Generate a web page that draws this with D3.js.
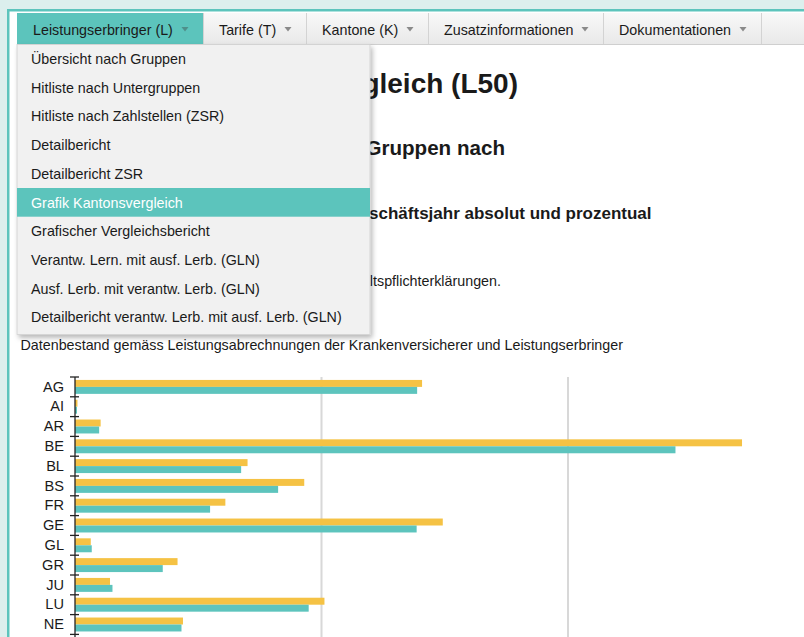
<!DOCTYPE html>
<html>
<head>
<meta charset="utf-8">
<script src="https://cdn.jsdelivr.net/npm/d3@7"></script>
<style>
  html, body { margin: 0; padding: 0; background: #dcefed; overflow: hidden; }
  svg { display: block; }
  text { font-family: "Liberation Sans", Arial, sans-serif; }
</style>
</head>
<body>
<script>
// ---------- data ----------
const kantone = ["AG","AI","AR","BE","BL","BS","FR","GE","GL","GR","JU","LU","NE"];
const werteGelb    = [704, 5, 52, 1353, 350, 465, 305, 746, 32, 208, 71, 506, 219];
const werteTuerkis = [694, 4, 49, 1218, 337, 412, 274, 693, 34, 178, 76, 474, 216];
const gitterWerte = [500, 1000, 1500];

const menuPunkte = ["Leistungserbringer (L)", "Tarife (T)", "Kantone (K)", "Zusatzinformationen", "Dokumentationen"];
const untermenu = [
  "Übersicht nach Gruppen",
  "Hitliste nach Untergruppen",
  "Hitliste nach Zahlstellen (ZSR)",
  "Detailbericht",
  "Detailbericht ZSR",
  "Grafik Kantonsvergleich",
  "Grafischer Vergleichsbericht",
  "Verantw. Lern. mit ausf. Lerb. (GLN)",
  "Ausf. Lerb. mit verantw. Lerb. (GLN)",
  "Detailbericht verantw. Lerb. mit ausf. Lerb. (GLN)"
];
const aktivIndex = 5;
const titel = "Kantonsvergleich (L50)";
const untertitel = "Vergleich der Gruppen nach";
const untertitel2 = "Kosten im Geschäftsjahr absolut und prozentual";
const hinweis = "Ohne Vorbehaltspflichterklärungen.";
const quelle = "Datenbestand gemäss Leistungsabrechnungen der Krankenversicherer und Leistungserbringer";

// ---------- layout ----------
const W = 804, H = 637;
const teal = "#5cc4bc", gelb = "#f5c244", tuerkis = "#5dc4bd";
const fs = 14.3;

const svg = d3.select("body").append("svg").attr("width", W).attr("height", H);
const defs = svg.append("defs");
const grad = defs.append("linearGradient").attr("id", "navg").attr("x1", 0).attr("y1", 0).attr("x2", 0).attr("y2", 1);
grad.append("stop").attr("offset", "0%").attr("stop-color", "#f8f8f8");
grad.append("stop").attr("offset", "100%").attr("stop-color", "#e9e9e9");
const sh = defs.append("filter").attr("id", "shadow").attr("x", "-10%").attr("y", "-10%").attr("width", "130%").attr("height", "130%");
sh.append("feDropShadow").attr("dx", 2).attr("dy", 3).attr("stdDeviation", 2.5).attr("flood-color", "#000").attr("flood-opacity", 0.28);

// background + page frame
svg.append("rect").attr("width", W).attr("height", H).attr("fill", "#dcefed");
svg.append("rect").attr("x", 7).attr("y", 9).attr("width", W).attr("height", H).attr("fill", teal);
svg.append("rect").attr("x", 9.5).attr("y", 11.5).attr("width", W).attr("height", H).attr("fill", "#ffffff");

// ---------- page texts behind dropdown ----------
svg.append("text").attr("x", 518).attr("y", 93).attr("text-anchor", "end")
  .attr("font-size", 28).attr("font-weight", "bold").attr("fill", "#1a1a1a").text(titel);
svg.append("text").attr("x", 505).attr("y", 155).attr("text-anchor", "end")
  .attr("font-size", 20.6).attr("font-weight", "bold").attr("fill", "#1a1a1a").text(untertitel);
svg.append("text").attr("x", 651.5).attr("y", 218.5).attr("text-anchor", "end")
  .attr("font-size", 17).attr("font-weight", "bold").attr("fill", "#1a1a1a").text(untertitel2);
svg.append("text").attr("x", 501).attr("y", 285.5).attr("text-anchor", "end")
  .attr("font-size", fs).attr("fill", "#1a1a1a").text(hinweis);
svg.append("text").attr("x", 20.5).attr("y", 350)
  .attr("font-size", fs).attr("fill", "#1a1a1a").text(quelle);

// ---------- chart ----------
const x = d3.scaleLinear().domain([0, 1000]).range([75, 568]);
const y = d3.scaleBand().domain(kantone).range([377, 377 + 19.8 * kantone.length]).padding(0);
const serien = ["gelb", "tuerkis"];
const ys = d3.scaleBand().domain(serien).range([0, y.bandwidth()]).paddingInner(0).paddingOuter(0.42);

const chart = svg.append("g");
chart.selectAll("line.grid").data(gitterWerte).join("line")
  .attr("class", "grid")
  .attr("x1", d => x(d)).attr("x2", d => x(d))
  .attr("y1", 377).attr("y2", H + 5)
  .attr("stroke", "#d8d8d8").attr("stroke-width", 2);

const rows = kantone.map((k, i) => ({ k, gelb: werteGelb[i], tuerkis: werteTuerkis[i] }));
const grp = chart.selectAll("g.row").data(rows).join("g")
  .attr("class", "row").attr("transform", d => `translate(0,${y(d.k)})`);
grp.append("rect")
  .attr("x", x(0)).attr("y", ys("gelb"))
  .attr("width", d => x(d.gelb) - x(0)).attr("height", ys.bandwidth())
  .attr("fill", gelb);
grp.append("rect")
  .attr("x", x(0)).attr("y", ys("tuerkis"))
  .attr("width", d => x(d.tuerkis) - x(0)).attr("height", ys.bandwidth())
  .attr("fill", tuerkis);

// y axis: labels via d3 axis, tick marks at band boundaries
const yAxis = d3.axisLeft(y).tickSize(0).tickPadding(11);
const ag = chart.append("g").attr("transform", `translate(${x(0)},0)`).call(yAxis);
ag.select(".domain").remove();
ag.selectAll("text").attr("font-size", 14.6).attr("fill", "#1a1a1a")
  .attr("font-family", "\"Liberation Sans\", Arial, sans-serif");
chart.append("line").attr("x1", x(0)).attr("x2", x(0)).attr("y1", 377).attr("y2", H + 5)
  .attr("stroke", "#222").attr("stroke-width", 1.3);
const grenzen = kantone.map(k => y(k)).concat([y.range()[1]]);
chart.selectAll("line.tk").data(grenzen).join("line").attr("class", "tk")
  .attr("x1", x(0) - 5).attr("x2", x(0) + 4)
  .attr("y1", d => d).attr("y2", d => d)
  .attr("stroke", "#222").attr("stroke-width", 1.3);

// ---------- navigation bar ----------
const navTop = 13, navH = 31;
const tabX = [17, 203, 306, 428, 603, 761];
svg.append("rect").attr("x", 17).attr("y", navTop).attr("width", W).attr("height", navH)
  .attr("fill", "url(#navg)");
svg.append("line").attr("x1", 17).attr("x2", W).attr("y1", navTop + navH + 0.5).attr("y2", navTop + navH + 0.5)
  .attr("stroke", "#cfcfcf");
const tabs = svg.selectAll("g.tab").data(menuPunkte).join("g").attr("class", "tab");
tabs.append("rect")
  .attr("x", (d, i) => tabX[i]).attr("y", navTop)
  .attr("width", (d, i) => tabX[i + 1] - tabX[i]).attr("height", navH)
  .attr("fill", (d, i) => i === 0 ? teal : "none");
tabs.append("line")
  .attr("x1", (d, i) => tabX[i + 1] + 0.5).attr("x2", (d, i) => tabX[i + 1] + 0.5)
  .attr("y1", navTop).attr("y2", navTop + navH)
  .attr("stroke", "#d3d3d3");
tabs.append("text")
  .attr("x", (d, i) => tabX[i] + 16).attr("y", 35)
  .attr("font-size", fs).attr("fill", "#1a1a1a").text(d => d);
tabs.append("path")
  .attr("d", (d, i) => { const cx = tabX[i + 1] - 18, cy = 29; return `M${cx-3.5},${cy-2}L${cx+3.5},${cy-2}L${cx},${cy+2.5}Z`; })
  .attr("fill", (d, i) => i === 0 ? "#4f8f8a" : "#8a8a8a");

// ---------- dropdown ----------
const ddX = 17, ddY = 44.5, ddW = 353, itemH = 28.7;
const ddH = itemH * untermenu.length + 3;
svg.append("rect").attr("x", ddX).attr("y", ddY).attr("width", ddW).attr("height", ddH)
  .attr("fill", "#f1f1f1").attr("stroke", "#d0d0d0").attr("stroke-width", 0.8)
  .attr("filter", "url(#shadow)");
const items = svg.selectAll("g.item").data(untermenu).join("g").attr("class", "item");
items.append("rect")
  .attr("x", ddX).attr("y", (d, i) => ddY + i * itemH)
  .attr("width", ddW).attr("height", itemH)
  .attr("fill", (d, i) => i === aktivIndex ? teal : "none");
items.append("text")
  .attr("x", 31).attr("y", (d, i) => ddY + i * itemH + 19.5)
  .attr("font-size", fs)
  .attr("fill", (d, i) => i === aktivIndex ? "#ffffff" : "#1a1a1a")
  .text(d => d);
</script>
</body>
</html>
